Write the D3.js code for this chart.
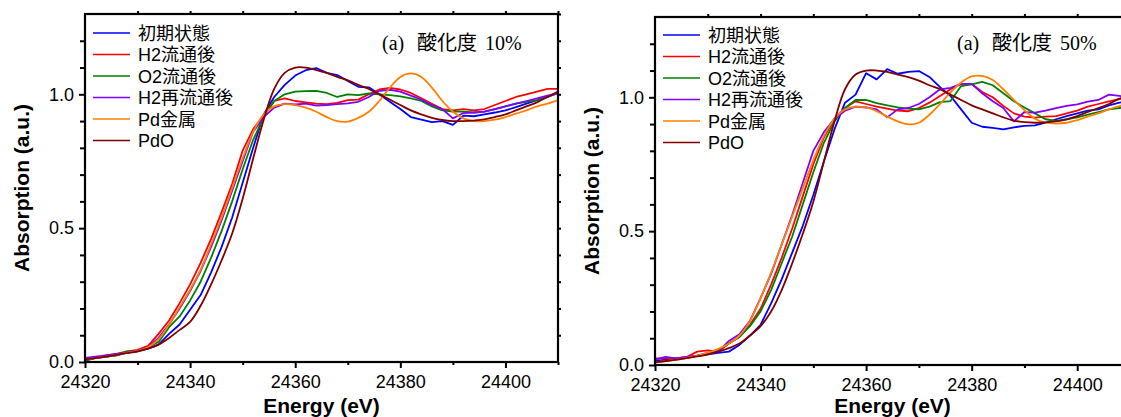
<!DOCTYPE html>
<html lang="ja">
<head>
<meta charset="UTF-8">
<title>XANES Pd K-edge</title>
<style>
  body { margin: 0; background: #fff; }
  svg { display: block; }
  .tick text { font-family: "Liberation Sans", Arial, sans-serif; font-size: 18px; fill: #000; }
</style>
</head>
<body>
<svg id="chart" width="1121" height="417"></svg>
<script src="https://d3js.org/d3.v7.min.js"></script>
<script>
// energy grid (eV)
const energy = [24320, 24322, 24324, 24326, 24328, 24330, 24332, 24334, 24336, 24338,
  24340, 24342, 24344, 24346, 24348, 24350, 24352, 24354, 24356, 24358,
  24360, 24362, 24364, 24366, 24368, 24370, 24372, 24374, 24376, 24378,
  24380, 24382, 24384, 24386, 24388, 24390, 24392, 24394, 24396, 24398,
  24400, 24402, 24404, 24406, 24408, 24410];

const names = ["初期状態", "H2流通後", "O2流通後", "H2再流通後", "Pd金属", "PdO"];
const colors = ["#0000ff", "#ff0000", "#008000", "#8000ff", "#ff8000", "#800000"];
const smooth = [false, false, false, false, true, true];

const xTicks = [24320, 24340, 24360, 24380, 24400];
const yTicks = [0, 0.5, 1.0];

// panel 1 : 酸化度 10%
const init10 = [0.005, 0.015, 0.02, 0.025, 0.035, 0.04, 0.05, 0.065, 0.105, 0.14,
  0.195, 0.25, 0.335, 0.43, 0.54, 0.67, 0.8, 0.925, 0.99, 1.035,
  1.07, 1.09, 1.098, 1.08, 1.072, 1.05, 1.028, 1.026, 1.0, 0.972,
  0.945, 0.915, 0.905, 0.896, 0.9, 0.886, 0.92, 0.918, 0.925, 0.932,
  0.94, 0.952, 0.965, 0.978, 0.99, 1.005];
const h2_10 = [0.01, 0.015, 0.025, 0.03, 0.04, 0.045, 0.06, 0.105, 0.155, 0.22,
  0.29, 0.37, 0.46, 0.56, 0.665, 0.79, 0.87, 0.92, 0.975, 0.985,
  0.975, 0.97, 0.965, 0.963, 0.968, 0.978, 0.98, 1.0, 1.018, 1.024,
  1.018, 1.005, 0.985, 0.965, 0.945, 0.94, 0.945, 0.94, 0.945, 0.96,
  0.975, 0.99, 1.0, 1.01, 1.02, 1.02];
const o2_10 = [0.005, 0.015, 0.02, 0.025, 0.04, 0.04, 0.055, 0.075, 0.13, 0.17,
  0.23, 0.3, 0.39, 0.49, 0.6, 0.72, 0.83, 0.915, 0.975, 1.0,
  1.01, 1.012, 1.013, 1.005, 0.99, 1.0, 0.997, 1.003, 1.0, 0.997,
  0.992, 0.985, 0.975, 0.955, 0.94, 0.935, 0.935, 0.932, 0.935, 0.945,
  0.955, 0.965, 0.972, 0.978, 0.99, 1.005];
const h2r_10 = [0.015, 0.02, 0.025, 0.03, 0.035, 0.042, 0.055, 0.09, 0.14, 0.2,
  0.265, 0.34, 0.43, 0.53, 0.64, 0.75, 0.86, 0.915, 0.95, 0.965,
  0.962, 0.965, 0.958, 0.96, 0.963, 0.966, 0.972, 0.99, 1.013, 1.017,
  1.01, 0.995, 0.98, 0.96, 0.945, 0.91, 0.93, 0.932, 0.935, 0.945,
  0.955, 0.965, 0.975, 0.985, 0.995, 1.003];
const pd_10 = [0.01, 0.015, 0.02, 0.027, 0.034, 0.042, 0.055, 0.085, 0.14, 0.205,
  0.27, 0.345, 0.44, 0.54, 0.65, 0.76, 0.86, 0.925, 0.955, 0.963,
  0.96, 0.95, 0.935, 0.915, 0.9, 0.898, 0.912, 0.935, 0.975, 1.025,
  1.065, 1.078, 1.065, 1.025, 0.975, 0.935, 0.91, 0.9, 0.9, 0.905,
  0.915, 0.928, 0.94, 0.955, 0.965, 0.978];
const pdo_10 = [0.01, 0.015, 0.02, 0.027, 0.033, 0.04, 0.05, 0.065, 0.09, 0.12,
  0.15, 0.21, 0.29, 0.38, 0.48, 0.61, 0.76, 0.905, 1.02, 1.08,
  1.1, 1.1, 1.09, 1.08, 1.065, 1.052, 1.035, 1.02, 1.0, 0.98,
  0.96, 0.94, 0.925, 0.912, 0.904, 0.9, 0.9, 0.902, 0.906, 0.915,
  0.925, 0.94, 0.955, 0.97, 0.99, 1.01];

// panel 2 : 酸化度 50%
const init50 = [0.015, 0.02, 0.025, 0.028, 0.035, 0.04, 0.045, 0.05, 0.075, 0.11,
  0.15, 0.23, 0.32, 0.42, 0.52, 0.635, 0.76, 0.88, 0.98, 1.01,
  1.09, 1.067, 1.105, 1.088, 1.095, 1.098, 1.076, 1.038, 1.005, 0.955,
  0.905, 0.89, 0.886, 0.88, 0.888, 0.893, 0.895, 0.905, 0.918, 0.93,
  0.94, 0.95, 0.955, 0.97, 0.98, 0.985];
const h2_50 = [0.025, 0.025, 0.025, 0.03, 0.05, 0.055, 0.05, 0.08, 0.105, 0.15,
  0.21, 0.3, 0.4, 0.51, 0.63, 0.75, 0.85, 0.92, 0.96, 0.985,
  0.975, 0.965, 0.958, 0.95, 0.948, 0.96, 0.98, 1.005, 1.03, 1.05,
  1.05, 1.02, 1.0, 0.968, 0.94, 0.928, 0.924, 0.928, 0.93, 0.94,
  0.95, 0.965, 0.975, 0.985, 0.993, 1.0];
const o2_50 = [0.01, 0.015, 0.02, 0.027, 0.034, 0.04, 0.055, 0.08, 0.105, 0.145,
  0.2, 0.28, 0.38, 0.48, 0.6, 0.72, 0.83, 0.91, 0.96, 0.99,
  0.99, 0.978, 0.97, 0.962, 0.958, 0.955, 0.965, 0.982, 0.986, 1.042,
  1.048, 1.058, 1.045, 1.015, 0.985, 0.962, 0.94, 0.918, 0.912, 0.918,
  0.925, 0.935, 0.945, 0.955, 0.96, 0.965];
const h2r_50 = [0.02, 0.03, 0.025, 0.03, 0.035, 0.045, 0.05, 0.09, 0.115, 0.165,
  0.25, 0.34, 0.45, 0.56, 0.68, 0.8, 0.87, 0.92, 0.95, 0.965,
  0.962, 0.955, 0.925, 0.955, 0.96, 0.975, 1.0, 1.03, 1.035, 1.05,
  1.05, 1.015, 0.985, 0.96, 0.91, 0.945, 0.943, 0.95, 0.96, 0.968,
  0.974, 0.984, 0.99, 1.01, 1.005, 1.0];
const pd_50 = [0.01, 0.015, 0.02, 0.027, 0.035, 0.045, 0.06, 0.08, 0.11, 0.165,
  0.25, 0.345, 0.45, 0.555, 0.66, 0.765, 0.855, 0.92, 0.955, 0.965,
  0.962, 0.948, 0.928, 0.91, 0.899, 0.905, 0.935, 0.975, 1.018, 1.055,
  1.078, 1.08, 1.065, 1.03, 0.99, 0.952, 0.92, 0.905, 0.902, 0.905,
  0.915, 0.928, 0.94, 0.955, 0.967, 0.975];
const pdo_50 = [0.01, 0.015, 0.02, 0.026, 0.032, 0.04, 0.05, 0.063, 0.08, 0.11,
  0.145, 0.2, 0.28, 0.38, 0.49, 0.61, 0.76, 0.91, 1.03, 1.085,
  1.1, 1.1, 1.095, 1.085, 1.075, 1.062, 1.045, 1.03, 1.01, 0.99,
  0.97, 0.955, 0.94, 0.925, 0.913, 0.907, 0.905, 0.906, 0.91, 0.918,
  0.93, 0.945, 0.96, 0.975, 0.995, 1.01];

const svg = d3.select("#chart");
const latin = "'Liberation Sans', Arial, 'Noto Sans CJK JP', sans-serif";

function drawPanel(p) {
  const x = d3.scaleLinear().domain([24320, 24410]).range([p.left, p.right]);
  const y = d3.scaleLinear().domain([0, 1.3]).range([p.bottom, p.top]);
  const g = svg.append("g");

  // lines
  const series = [p.a, p.b, p.c, p.d, p.e, p.f];
  series.forEach(function (vals, i) {
    const line = d3.line()
      .x(function (d, k) { return x(energy[k]); })
      .y(function (d) { return y(d); })
      .curve(smooth[i] ? d3.curveCatmullRom : d3.curveLinear);
    g.append("path")
      .attr("d", line(vals))
      .attr("fill", "none")
      .attr("stroke", colors[i])
      .attr("stroke-width", 1.8)
      .attr("stroke-linejoin", "round");
  });

  // axes
  const minorX = d3.range(24330, 24411, 20);
  const minorY = [0.1, 0.2, 0.3, 0.4, 0.6, 0.7, 0.8, 0.9, 1.1, 1.2];
  const allX = d3.range(24320, 24411, 10);
  const allY = d3.range(0, 1.31, 0.1);

  function style(sel) {
    sel.select(".domain").remove();
    sel.selectAll(".tick line").attr("stroke", "#000").attr("stroke-width", 2);
  }

  g.append("g").attr("transform", "translate(0," + p.bottom + ")")
    .call(d3.axisBottom(x).tickValues(xTicks).tickSize(6).tickPadding(7).tickFormat(d3.format("d")))
    .call(style);
  g.append("g").attr("transform", "translate(0," + p.bottom + ")")
    .call(d3.axisBottom(x).tickValues(minorX).tickSize(3).tickFormat(""))
    .call(style);
  g.append("g").attr("transform", "translate(" + p.left + ",0)")
    .call(d3.axisLeft(y).tickValues(yTicks).tickSize(6).tickPadding(5).tickFormat(d3.format(".1f")))
    .call(style);
  g.append("g").attr("transform", "translate(" + p.left + ",0)")
    .call(d3.axisLeft(y).tickValues(minorY).tickSize(5).tickFormat(""))
    .call(style);
  g.append("g").attr("transform", "translate(0," + p.top + ")")
    .call(d3.axisTop(x).tickValues(allX.slice(1)).tickSize(3).tickFormat(""))
    .call(style);
  g.append("g").attr("transform", "translate(" + p.right + ",0)")
    .call(d3.axisRight(y).tickValues(allY.slice(1)).tickSize(3).tickFormat(""))
    .call(style);

  // frame
  g.append("rect")
    .attr("x", p.left).attr("y", p.top)
    .attr("width", p.right - p.left).attr("height", p.bottom - p.top)
    .attr("fill", "none").attr("stroke", "#000").attr("stroke-width", 2.2);

  // axis titles
  g.append("text")
    .attr("x", (p.left + p.right) / 2).attr("y", 413)
    .attr("text-anchor", "middle")
    .style("font-family", latin).style("font-size", "21px").style("font-weight", "bold")
    .text("Energy (eV)");
  g.append("text")
    .attr("transform", "translate(" + (p.left - 56) + "," + ((p.top + p.bottom) / 2) + ") rotate(-90)")
    .attr("text-anchor", "middle")
    .style("font-family", latin).style("font-size", "21px").style("font-weight", "bold")
    .text("Absorption (a.u.)");

  // legend
  names.forEach(function (n, i) {
    const ly = p.legendY + i * 21.5;
    g.append("line")
      .attr("x1", p.left + 8).attr("x2", p.left + 45)
      .attr("y1", ly).attr("y2", ly)
      .attr("stroke", colors[i]).attr("stroke-width", 1.6);
    g.append("text")
      .attr("x", p.left + 53).attr("y", ly + 6.5)
      .style("font-family", latin).style("font-size", "18px")
      .text(n);
  });

  // note
  const note = g.append("text").attr("y", 50)
    .style("font-family", "'Liberation Serif', 'Times New Roman', 'Noto Sans CJK JP', serif")
    .style("font-size", "20px");
  note.append("tspan").attr("x", p.noteX).text("(a)");
  note.append("tspan").attr("x", p.noteX + 35).text("酸化度");
  note.append("tspan").attr("x", p.noteX + 103).text(p.label);
}

drawPanel({left: 85, right: 558, top: 14, bottom: 362, legendY: 33,
  noteX: 382, label: "10%",
  a: init10, b: h2_10, c: o2_10, d: h2r_10, e: pd_10, f: pdo_10});
drawPanel({left: 655, right: 1130, top: 17, bottom: 365, legendY: 35,
  noteX: 957, label: "50%",
  a: init50, b: h2_50, c: o2_50, d: h2r_50, e: pd_50, f: pdo_50});
</script>
</body>
</html>
